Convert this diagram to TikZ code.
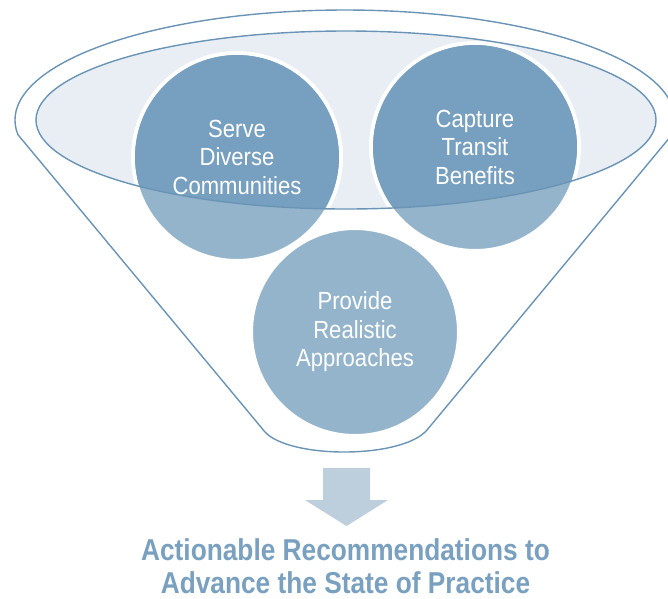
\documentclass[tikz,border=0pt]{standalone}
\usepackage{fontspec}
\setmainfont{Liberation Sans}
\newfontfamily\circfont[FakeStretch=0.89]{Liberation Sans}
\newfontfamily\headfont[FakeStretch=0.87]{Liberation Sans}
\definecolor{rimblue}{RGB}{106,148,182}
\definecolor{rimfill}{RGB}{232,238,243}
\definecolor{disclight}{RGB}{148,180,203}
\definecolor{discdark}{RGB}{119,160,192}
\definecolor{arrowblue}{RGB}{189,206,221}
\definecolor{headblue}{RGB}{122,160,192}
\begin{document}
\begin{tikzpicture}[x=1pt,y=-1pt,
  rim/.style={draw=rimblue, line width=1.4pt, line join=round},
  disc/.style={circle, minimum size=208pt, inner sep=0pt, fill=disclight, draw=white, line width=4pt},
  disclabel/.style={text=white, align=center, inner sep=0pt, font=\circfont\fontsize{24.8}{28.5}\selectfont},
  headline/.style={text=headblue, align=center, inner sep=0pt, font=\headfont\bfseries\fontsize{30.2}{32.5}\selectfont}
]
\useasboundingbox (0,0) rectangle (668,598);

% funnel body: top rim arc, tapering sides, rounded spout
\draw[rim] plot[domain=172.3:367.7, samples=150] ({345+330*cos(\x)},{120+110*sin(\x)})
  -- (427,430) .. controls (402,459) and (290,459) .. (265,432) -- cycle;

% funnel mouth
\fill[rimfill] (346,120) ellipse [x radius=310pt, y radius=89pt];

% the three ingredients
\node[disc] (serve) at (237,157) {};
\node[disc] (capture) at (475,147) {};
\node[disc] (provide) at (355,332) {};

% parts of the discs lying inside the mouth are darker
\begin{scope}
  \clip (346,120) ellipse [x radius=310pt, y radius=89pt];
  \fill[discdark] (serve.center) circle[radius=102pt];
  \fill[discdark] (capture.center) circle[radius=102pt];
\end{scope}
\draw[rim] (346,120) ellipse [x radius=310pt, y radius=89pt];

\node[disclabel] (serveText) at (serve.center) {Serve\\Diverse\\Communities};
\node[disclabel] (captureText) at (capture.center) {Capture\\Transit\\Benefits};
\node[disclabel] (provideText) at (provide.center) {Provide\\Realistic\\Approaches};

% outflow arrow
\fill[arrowblue] (323,468) -- (370,468) -- (370,500) -- (388,500) -- (346.5,526)
  -- (305,500) -- (323,500) -- cycle;

\node[headline] (outcome) at (345.5,566) {Actionable Recommendations to\\Advance the State of Practice};
\end{tikzpicture}
\end{document}
